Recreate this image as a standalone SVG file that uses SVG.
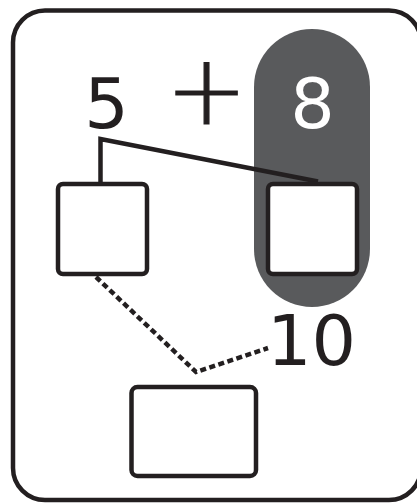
<svg xmlns="http://www.w3.org/2000/svg" width="417" height="504" viewBox="0 0 417 504">
<style>
.box{fill:#fff;stroke:#231f20;stroke-width:4.5}
.num{font-family:"DejaVu Sans",sans-serif;font-size:70px;text-anchor:middle;fill:#231f20}
.conn{fill:none;stroke:#231f20;stroke-width:4.5}
</style>
<rect x="0" y="0" width="417" height="504" fill="#fff"/>
<rect id="frame" x="13" y="10.5" width="408" height="489.5" rx="32" fill="none" stroke="#231f20" stroke-width="4.5"/>
<g id="highlight"><rect x="254" y="29" width="116" height="278" rx="58" fill="#595a5c"/></g>
<g id="expr">
<text class="num" x="106.5" y="128">5</text>
<text x="206.5" y="124" style="font-family:'DejaVu Sans',sans-serif;font-size:98px;font-weight:200;text-anchor:middle;fill:#231f20;stroke:#231f20;stroke-width:1.2">+</text>
<text class="num" x="312.5" y="128" style="fill:#fff">8</text>
</g>
<g id="connectors">
<path class="conn" d="M100.5,183 V139 L318,181.5" stroke-linejoin="miter"/>
<polyline class="conn" points="96,277 196,372 268,348" stroke-width="5" stroke-dasharray="6 3.5"/>
</g>
<g id="box-left"><rect class="box" x="58" y="184" width="89" height="90" rx="5"/></g>
<g id="box-right"><rect class="box" x="268" y="184" width="89" height="90" rx="5"/></g>
<g id="label-10"><text class="num" x="311.5" y="365">10</text></g>
<g id="box-bottom"><rect class="box" x="131.5" y="387" width="124.5" height="89" rx="6"/></g>
</svg>
